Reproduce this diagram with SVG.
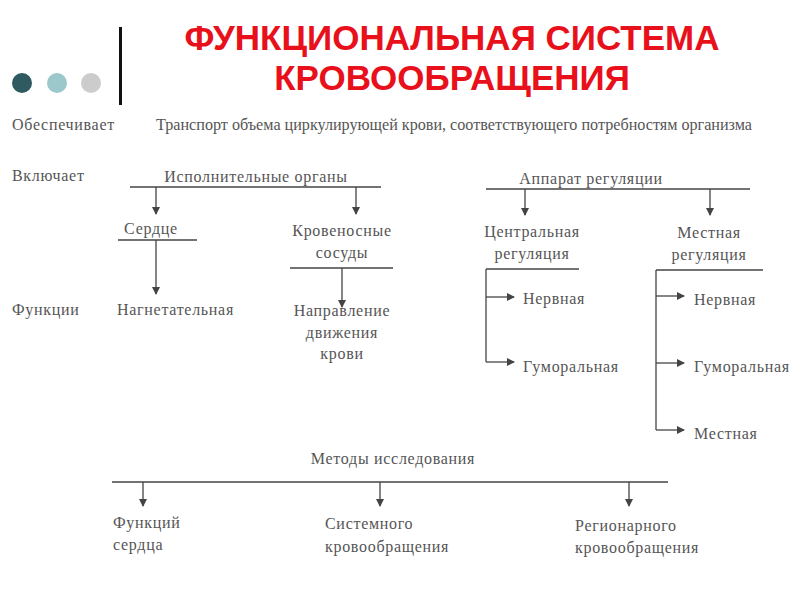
<svg xmlns="http://www.w3.org/2000/svg" width="800" height="600" viewBox="0 0 800 600">
<style>
text{font-family:"Liberation Serif","DejaVu Serif",serif;font-size:16px;letter-spacing:0.7px;fill:#555}
.t{font-family:"Liberation Sans",Arial,sans-serif;font-size:35px;letter-spacing:0;font-weight:bold;fill:#e8101a;text-anchor:middle}
.m{text-anchor:middle}
line{stroke:#444;stroke-width:1.3}
.a{marker-end:url(#ar)}
</style>
<defs><marker id="ar" markerWidth="8" markerHeight="8" refX="7" refY="4" orient="auto" markerUnits="userSpaceOnUse"><path d="M0,0L8,4L0,8z" fill="#444"/></marker></defs>
<rect width="800" height="600" fill="#fff"/>
<g id="header">
<circle cx="22" cy="83" r="10" fill="#2f5a5f"/><circle cx="57" cy="83" r="10" fill="#9cc8cc"/><circle cx="91" cy="83" r="10" fill="#cccccc"/>
<rect x="119" y="27" width="3" height="78" fill="#111"/>
<text class="t" x="452" y="50">ФУНКЦИОНАЛЬНАЯ СИСТЕМА</text>
<text class="t" x="452" y="90">КРОВООБРАЩЕНИЯ</text>
</g>
<g id="labels">
<text x="12" y="130">Обеспечивает</text>
<text x="156" y="130" textLength="596" lengthAdjust="spacingAndGlyphs" style="letter-spacing:0">Транспорт объема циркулирующей крови, соответствующего потребностям организма</text>
<text x="12" y="181">Включает</text>
<text x="12" y="315">Функции</text>
</g>
<g id="n-ispoln"><text class="m" x="256" y="182">Исполнительные органы</text></g>
<g id="n-serdce"><text class="m" x="151" y="234">Сердце</text></g>
<g id="n-sosudy"><text class="m" x="342" y="236">Кровеносные</text><text class="m" x="342" y="258">сосуды</text></g>
<g id="n-nagnet"><text x="117" y="315">Нагнетательная</text></g>
<g id="n-napr"><text class="m" x="342" y="316">Направление</text><text class="m" x="342" y="338">движения</text><text class="m" x="342" y="359">крови</text></g>
<g id="n-apparat"><text class="m" x="591" y="184">Аппарат регуляции</text></g>
<g id="n-central"><text class="m" x="532" y="237">Центральная</text><text class="m" x="532" y="259">регуляция</text></g>
<g id="n-mestreg"><text class="m" x="709" y="238">Местная</text><text class="m" x="709" y="260">регуляция</text></g>
<g id="n-c-nerv"><text x="523" y="304">Нервная</text></g>
<g id="n-c-gum"><text x="523" y="372">Гуморальная</text></g>
<g id="n-m-nerv"><text x="694" y="305">Нервная</text></g>
<g id="n-m-gum"><text x="694" y="372">Гуморальная</text></g>
<g id="n-m-mest"><text x="694" y="439">Местная</text></g>
<g id="n-metody"><text class="m" x="393" y="464">Методы исследования</text></g>
<g id="n-f-serd"><text x="113" y="528">Функций</text><text x="113" y="550">сердца</text></g>
<g id="n-sist"><text x="325" y="529">Системного</text><text x="325" y="552">кровообращения</text></g>
<g id="n-reg"><text x="575" y="531">Регионарного</text><text x="575" y="553">кровообращения</text></g>
<g id="connectors">
<line x1="130" y1="187" x2="381" y2="187"/>
<line class="a" x1="156" y1="187" x2="156" y2="214"/>
<line class="a" x1="356" y1="187" x2="356" y2="214"/>
<line x1="118" y1="240" x2="197" y2="240"/>
<line class="a" x1="156" y1="240" x2="156" y2="294"/>
<line x1="290" y1="268" x2="393" y2="268"/>
<line class="a" x1="342" y1="268" x2="342" y2="307"/>
<line x1="486" y1="189" x2="750" y2="189"/>
<line class="a" x1="525" y1="189" x2="525" y2="215"/>
<line class="a" x1="710" y1="189" x2="710" y2="215"/>
<line x1="486" y1="269" x2="579" y2="269"/>
<line x1="486" y1="269" x2="486" y2="362"/>
<line class="a" x1="486" y1="297" x2="514" y2="297"/>
<line class="a" x1="486" y1="362" x2="514" y2="362"/>
<line x1="656" y1="270" x2="763" y2="270"/>
<line x1="656" y1="270" x2="656" y2="430"/>
<line class="a" x1="656" y1="296" x2="684" y2="296"/>
<line class="a" x1="656" y1="363" x2="684" y2="363"/>
<line class="a" x1="656" y1="430" x2="684" y2="430"/>
<line x1="112" y1="482" x2="668" y2="482"/>
<line class="a" x1="143" y1="482" x2="143" y2="506"/>
<line class="a" x1="380" y1="482" x2="380" y2="506"/>
<line class="a" x1="629" y1="482" x2="629" y2="506"/>
</g>
</svg>
